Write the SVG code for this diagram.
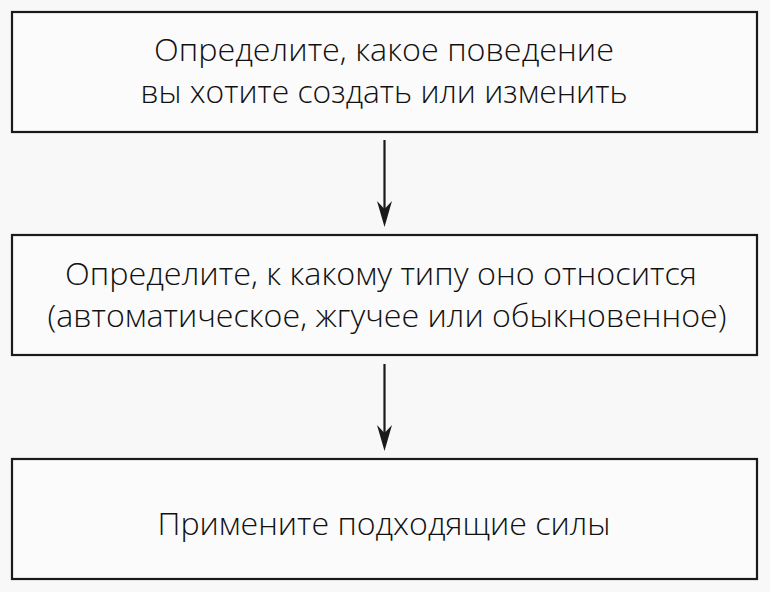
<svg xmlns="http://www.w3.org/2000/svg" width="770" height="592" viewBox="0 0 770 592">
<style>
.box{fill:#fbfbfb;stroke:#1a1a1a;stroke-width:2.2}
.t{font-family:"Open Sans","Noto Sans",sans-serif;font-size:31px;font-weight:300;fill:#111;text-anchor:middle}
.c{stroke:#1a1a1a;stroke-width:2.2;fill:none}
.h{fill:#1a1a1a;stroke:none}
</style>
<rect width="770" height="592" fill="#f8f8f8"/>
<g id="node1">
<rect class="box" x="12" y="12" width="745" height="120"/>
<text class="t" x="384" y="61" textLength="460" lengthAdjust="spacingAndGlyphs">Определите, какое поведение</text>
<text class="t" x="384" y="103" textLength="487" lengthAdjust="spacingAndGlyphs">вы хотите создать или изменить</text>
</g>
<g id="node2">
<rect class="box" x="12" y="235" width="745" height="120"/>
<text class="t" x="381" y="285" textLength="632" lengthAdjust="spacingAndGlyphs">Определите, к какому типу оно относится</text>
<text class="t" x="387" y="327" textLength="679" lengthAdjust="spacingAndGlyphs">(автоматическое, жгучее или обыкновенное)</text>
</g>
<g id="node3">
<rect class="box" x="12" y="459" width="745" height="120"/>
<text class="t" x="384" y="535" textLength="453" lengthAdjust="spacingAndGlyphs">Примените подходящие силы</text>
</g>
<g id="connectors">
<line class="c" x1="384.5" y1="140" x2="384.5" y2="212"/>
<path class="h" d="M384.5,227 L377,201 L384.5,209 L392,201 Z"/>
<line class="c" x1="384.5" y1="364" x2="384.5" y2="436"/>
<path class="h" d="M384.5,451 L377,425 L384.5,433 L392,425 Z"/>
</g>
</svg>
